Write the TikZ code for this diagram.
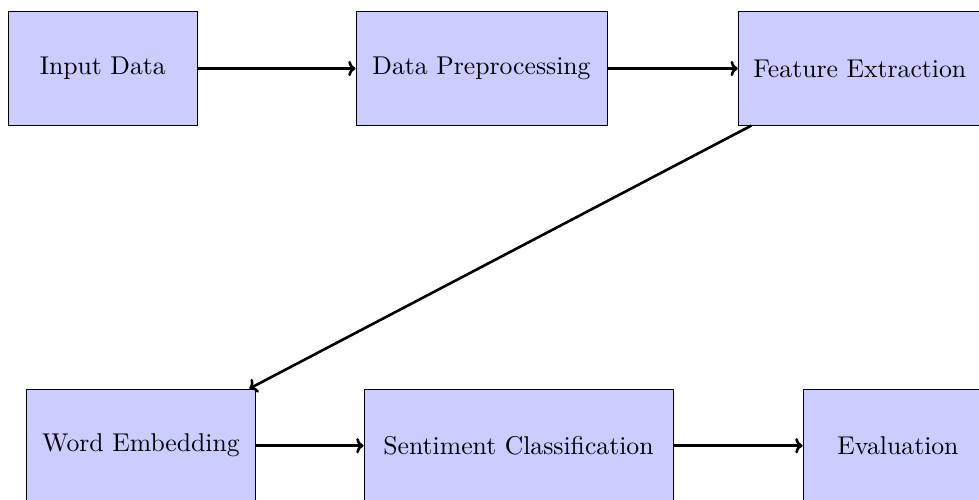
\documentclass[tikz,border=0pt]{standalone}
\usetikzlibrary{arrows.meta}
% labels set at 10pt and enlarged, so they keep the weight of the 10pt design
\newcommand\stagelabel[1]{\scalebox{2.57}{\fontsize{10}{12}\selectfont #1}}
\begin{document}
\begin{tikzpicture}[x=1pt,y=-1pt,
  stage/.style={draw=black, line width=0.9pt, fill=blue!20, inner sep=0pt,
    minimum height=113.3pt, anchor=center},
  flow/.style={->, line width=2.6pt}]
  \useasboundingbox (0,0) rectangle (979,500);
  % upper row
  \node[stage, minimum width=189.7pt] (input) at (102.8,68.5) {\stagelabel{Input Data}};
  \node[stage, minimum width=251pt] (prep) at (481.5,68.5) {\stagelabel{Data Preprocessing}};
  \node[stage, minimum width=243pt] (feat) at (859.8,68.5) {\stagelabel{Feature Extraction}};
  % lower row
  \node[stage, minimum width=228.3pt] (embed) at (141,445.7) {\stagelabel{Word Embedding}};
  \node[stage, minimum width=309pt] (clf) at (518.5,445.7) {\stagelabel{Sentiment Classification}};
  \node[stage, minimum width=190pt] (eval) at (898,445.7) {\stagelabel{Evaluation}};
  % connectors
  \draw[flow] (input) -- (prep);
  \draw[flow] (prep) -- (feat);
  \draw[flow] (feat) -- (embed);
  \draw[flow] (embed) -- (clf);
  \draw[flow] (clf) -- (eval);
\end{tikzpicture}
\end{document}
